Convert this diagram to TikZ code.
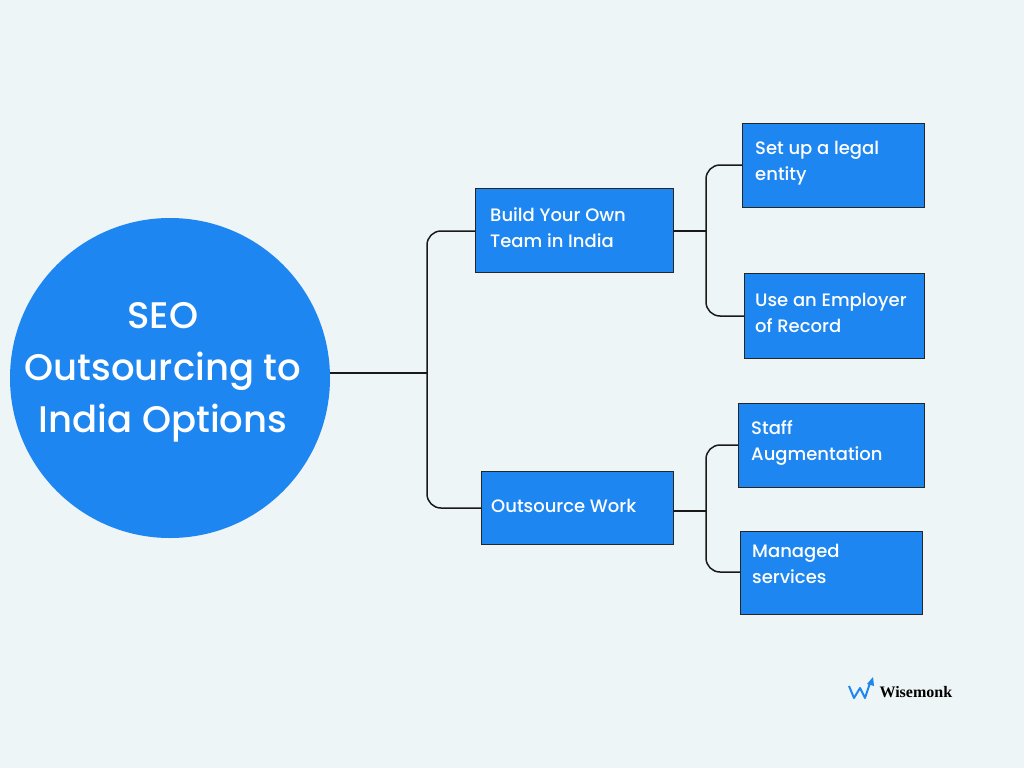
\documentclass[tikz,border=0pt]{standalone}
\usepackage{fontspec}
\setmainfont{Poppins Medium}
\newfontfamily\logofont{Liberation Serif}
\definecolor{bg}{HTML}{EEF5F6}
\definecolor{bl}{HTML}{1E86F0}
\begin{document}
\begin{tikzpicture}[x=1pt,y=-1pt,
 box/.style={draw=black!85,line width=0.8pt,fill=bl},
 lbl/.style={anchor=north west,text=white,font=\fontsize{18}{26}\selectfont,align=left,inner sep=0pt},
 con/.style={draw=black!90,line width=1.5pt,rounded corners=14pt}]
\fill[bg] (0,0) rectangle (1024,768);
\useasboundingbox (0,0) rectangle (1024,768);
\node[circle,fill=bl,minimum size=320pt,inner sep=0pt] (root) at (170,378) {};
\node[text=white,font=\fontsize{37}{52}\selectfont,align=center] (rt) at (163,372) {SEO\\Outsourcing to\\India Options};
\draw[box] (475,188) rectangle (673,272); \coordinate (a) at (475,231); \coordinate (ar) at (673,231);
\node[lbl] (at) at (490,207) {Build Your Own\\Team in India};
\draw[box] (481,471) rectangle (673,544); \coordinate (b) at (481,508); \coordinate (br) at (673,511);
\node[lbl] (bt) at (491,499) {Outsource Work};
\draw[box] (742,123) rectangle (924,207); \coordinate (c1) at (742,165);
\node[lbl] (c1t) at (755,141) {Set up a legal\\entity};
\draw[box] (744,273) rectangle (924,358); \coordinate (c2) at (744,316);
\node[lbl] (c2t) at (755,293) {Use an Employer\\of Record};
\draw[box] (738,403) rectangle (924,487); \coordinate (c3) at (738,445);
\node[lbl] (c3t) at (751,420) {Staff\\Augmentation};
\draw[box] (740,531) rectangle (922,614); \coordinate (c4) at (740,572);
\node[lbl] (c4t) at (752,544) {Managed\\services};
\coordinate (r) at (330,373);
\draw[con] (r) -- (427,373);
\draw[con] (a) -- (427,231) -- (427,508) -- (b);
\draw[con] (ar) -- (706,231);
\draw[con] (c1) -- (706,165) -- (706,316) -- (c2);
\draw[con] (br) -- (706,511);
\draw[con] (c3) -- (706,445) -- (706,572) -- (c4);
\draw[bl,line width=2pt,line join=round] (849,686) -- (854,698) -- (860,688) -- (865,698) -- (870,683);
\fill[bl] (867,684) -- (873,677) -- (874,686) -- cycle;
\node[anchor=west,font=\logofont\bfseries\fontsize{16}{18}\selectfont] (logo) at (876,692) {Wisemonk};
\end{tikzpicture}
\end{document}
